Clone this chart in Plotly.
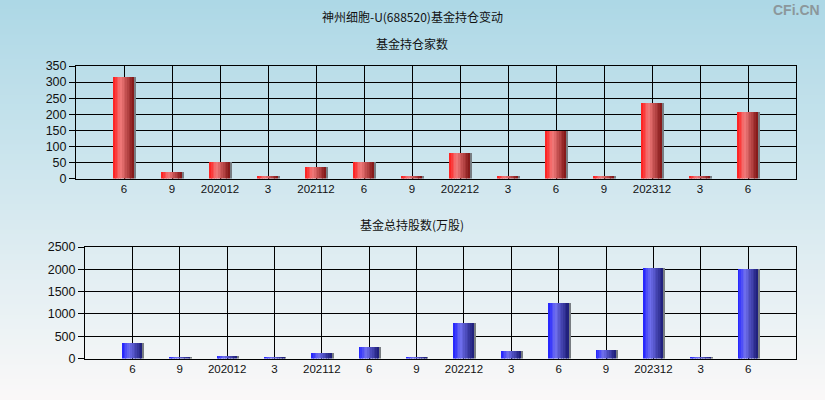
import plotly.graph_objects as go

# ---- data ----
categories = ["6", "9", "202012", "3", "202112", "6", "9", "202212", "3", "6", "9", "202312", "3", "6"]
fund_count = [317, 20, 50, 7, 35, 50, 7, 79, 7, 149, 7, 235, 7, 207]
fund_shares = [345, 22, 50, 22, 120, 255, 20, 795, 165, 1245, 187, 2033, 20, 2011]

title_main = "神州细胞-U(688520)基金持仓变动"
title_top = "基金持仓家数"
title_bottom = "基金总持股数(万股)"
watermark = "CFi.CN"

W, H = 825, 400
xpos = list(range(len(categories)))

fig = go.Figure()


def lerp(c1, c2, t):
    return tuple(round(a + (b - a) * t) for a, b in zip(c1, c2))


def cyl_color(stops, t):
    for (t0, c0), (t1, c1) in zip(stops, stops[1:]):
        if t0 <= t <= t1:
            return lerp(c0, c1, (t - t0) / (t1 - t0) if t1 > t0 else 0)
    return stops[-1][1]


red_stops = [(0.0, (255, 25, 25)), (0.35, (242, 122, 122)), (1.0, (128, 20, 20))]
blue_stops = [(0.0, (30, 30, 255)), (0.35, (112, 112, 240)), (1.0, (28, 28, 118))]

BAR_W = 0.42
N = 12


def add_cylinder(values, stops, xa, ya, shadow_w):
    # shadow
    fig.add_trace(go.Bar(x=xpos, y=values, xaxis=xa, yaxis=ya, width=shadow_w,
                         offset=BAR_W / 2 - 0.005, marker=dict(color="rgb(120,125,130)", line=dict(width=0)),
                         showlegend=False, hoverinfo="skip"))
    sw = BAR_W / N
    for i in range(N):
        t = (i + 0.5) / N
        c = cyl_color(stops, t)
        fig.add_trace(go.Bar(x=xpos, y=values, xaxis=xa, yaxis=ya, width=sw * 1.05,
                             offset=-BAR_W / 2 + i * sw,
                             marker=dict(color="rgb(%d,%d,%d)" % c, line=dict(width=0)),
                             showlegend=False, hoverinfo="skip"))


add_cylinder(fund_count, red_stops, "x", "y", 0.045)
add_cylinder(fund_shares, blue_stops, "x2", "y2", 0.045)

# background gradient strips
top_c = (173, 216, 230)
bot_c = (250, 248, 248)
shapes = []
NS = 80
for i in range(NS):
    c = lerp(top_c, bot_c, i / (NS - 1))
    shapes.append(dict(type="rect", xref="paper", yref="paper", x0=0, x1=1,
                       y0=1 - (i + 1) / NS, y1=1 - i / NS + 0.001,
                       fillcolor="rgb(%d,%d,%d)" % c, line=dict(width=0), layer="below"))

tickfont_y = dict(family="Liberation Sans, Arial", size=12.5, color="#111111")
tickfont_x = dict(family="Liberation Sans, Arial", size=11.5, color="#111111")

axis_common_x = dict(tickmode="array", tickvals=xpos, ticktext=categories, range=[-1, len(categories)],
                     showgrid=True, gridcolor="black", gridwidth=1, showline=True, linecolor="black",
                     linewidth=1, mirror=True, ticks="", tickfont=tickfont_x, zeroline=False,
                     fixedrange=True, automargin=False)

axis_common_y = dict(showgrid=True, gridcolor="black", gridwidth=1, showline=True, linecolor="black",
                     linewidth=1, mirror=True, ticks="outside", ticklen=6, tickcolor="black",
                     tickfont=tickfont_y, zeroline=False, fixedrange=True, automargin=False)

fig.update_layout(
    width=W, height=H,
    autosize=False,
    margin=dict(l=0, r=0, t=0, b=0, pad=0, autoexpand=False),
    paper_bgcolor="rgb(173,216,230)",
    plot_bgcolor="rgba(0,0,0,0)",
    barmode="overlay",
    bargap=0,
    showlegend=False,
    shapes=shapes,
    xaxis=dict(domain=[76 / W, 796 / W], anchor="y", **axis_common_x),
    yaxis=dict(domain=[1 - 178.5 / H, 1 - 66 / H], anchor="x", range=[0, 350],
               tickvals=list(range(0, 351, 50)), **axis_common_y),
    xaxis2=dict(domain=[85 / W, 795.5 / W], anchor="y2", **axis_common_x),
    yaxis2=dict(domain=[1 - 358.5 / H, 1 - 247 / H], anchor="x2", range=[0, 2500],
                tickvals=list(range(0, 2501, 500)), **axis_common_y),
    annotations=[
        dict(text=title_main, x=412 / W, y=1 - 17 / H, xref="paper", yref="paper", showarrow=False,
             font=dict(family="Noto Sans CJK SC", size=12, color="#111111"), xanchor="center", yanchor="middle"),
        dict(text=title_top, x=412 / W, y=1 - 43 / H, xref="paper", yref="paper", showarrow=False,
             font=dict(family="Noto Sans CJK SC", size=12, color="#111111"), xanchor="center", yanchor="middle"),
        dict(text=title_bottom, x=412 / W, y=1 - 224 / H, xref="paper", yref="paper", showarrow=False,
             font=dict(family="Noto Sans CJK SC", size=12, color="#111111"), xanchor="center", yanchor="middle"),
        dict(text="<b>" + watermark + "</b>", x=822 / W, y=1 - 10 / H, xref="paper", yref="paper",
             showarrow=False, font=dict(family="Liberation Sans, Arial", size=14, color="#8c979b"),
             xanchor="right", yanchor="middle"),
    ],
)

fig.write_html("out.html",
               config={"displayModeBar": False, "responsive": False},
               post_script="document.body.style.margin='0px';document.body.style.padding='0px';"
                           "document.body.style.overflow='hidden';")
